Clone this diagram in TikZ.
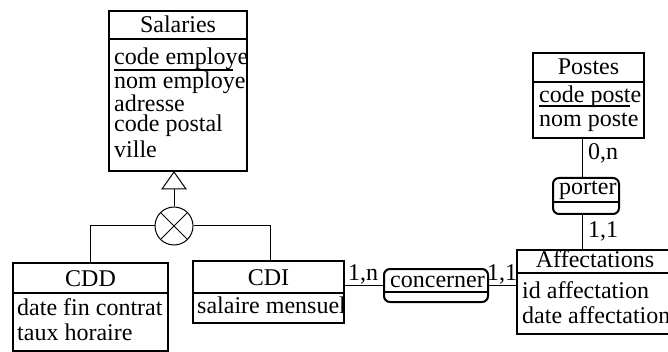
\documentclass[tikz,border=0pt]{standalone}
\usepackage{fontspec}
\setmainfont{Liberation Serif}

\begin{document}
\begin{tikzpicture}[x=1pt, y=-1pt, font=\fontsize{24}{28}\selectfont]
    \tikzstyle{entity}=[rectangle, draw=black, line width=2pt, anchor=north west, inner sep=0pt]
    \tikzstyle{relation}=[entity, rounded corners=6pt]
    \tikzstyle{title}=[anchor=base, inner sep=0pt]
    \tikzstyle{attr}=[anchor=base west, inner sep=0pt]
    \tikzstyle{card}=[anchor=base west, inner sep=0pt]
    \tikzstyle{link}=[line width=1pt]

    \useasboundingbox (0,0) rectangle (668,352);

    % Draw the entity boxes
    \node[entity, minimum width=138, minimum height=160] (Salaries) at (108,10) {};
    \node[entity, minimum width=111, minimum height=85] (Postes) at (532,52) {};
    \node[entity, minimum width=155, minimum height=88] (CDD) at (12,262) {};
    \node[entity, minimum width=151, minimum height=62] (CDI) at (192,260) {};
    \node[entity, minimum width=156, minimum height=84] (Affectations) at (516,249) {};

    % Title row of every entity
    \foreach \name / \y / \sep in {Salaries/33/39, Postes/75/82, CDD/286/293, CDI/285/293, Affectations/267/273}
    {
        \draw[line width=2pt] (\name.west |- 0,\sep) -- (\name.east |- 0,\sep);
        \node[title] (\name-t) at (\name.north |- 0,\y) {\name};
    }

    % Attributes
    \foreach \x / \y / \text [count=\i] in {114/65/code employe, 114/89/nom employe, 114/112/adresse,
        114/132/code postal, 114/158/ville, 539/103/code poste, 539/127/nom poste,
        17/315/date fin contrat, 17/340/taux horaire, 197/313/salaire mensuel,
        522/298/id affectation, 522/323/date affectation}
        \node[attr] (A-\i) at (\x,\y) {\text};

    % Identifiers
    \draw[line width=1.3pt] (114,70) -- (233,70);
    \draw[line width=1.3pt] (539,106) -- (630,106);

    % Draw the relation boxes
    \node[relation, minimum width=104, minimum height=33] (concerner) at (383,268) {};
    \node[relation, minimum width=66, minimum height=36] (porter) at (552,177) {};
    \foreach \name / \y / \sep in {concerner/287/292, porter/195/202}
    {
        \draw[line width=2pt] (\name.west |- 0,\sep) -- (\name.east |- 0,\sep);
        \node[attr] (\name-t) at (\name.west |- 0,\y) [xshift=7pt] {\name};
    }

    % Generalization
    \node[circle, draw, line width=1pt, minimum size=38, inner sep=0pt] (gen) at (174,226) {};
    \draw[link] (gen.north west) -- (gen.south east);
    \draw[link] (gen.north east) -- (gen.south west);
    \coordinate (isa) at (174,189);
    \draw[link] (174,172) -- (162,189) -- (186,189) -- cycle;
    \draw[link] (isa) -- (gen);
    \draw[link] (gen.west) -| (CDD.north -| 90,0);
    \draw[link] (gen.east) -| (CDI.north -| 270,0);

    % Connect the relations
    \draw[link] (CDI.east |- concerner.west) -- (concerner.west);
    \draw[link] (concerner.east) -- (Affectations.west |- concerner.east);
    \draw[link] (Postes.south -| 582,0) -- (porter.north -| 582,0);
    \draw[link] (porter.south -| 582,0) -- (Affectations.north -| 582,0);

    % Cardinalities
    \node[card] (c1) at (348,280) {1,n};
    \node[card] (c2) at (487,280) {1,1};
    \node[card] (c3) at (588,160) {0,n};
    \node[card] (c4) at (588,238) {1,1};

\end{tikzpicture}
\end{document}
